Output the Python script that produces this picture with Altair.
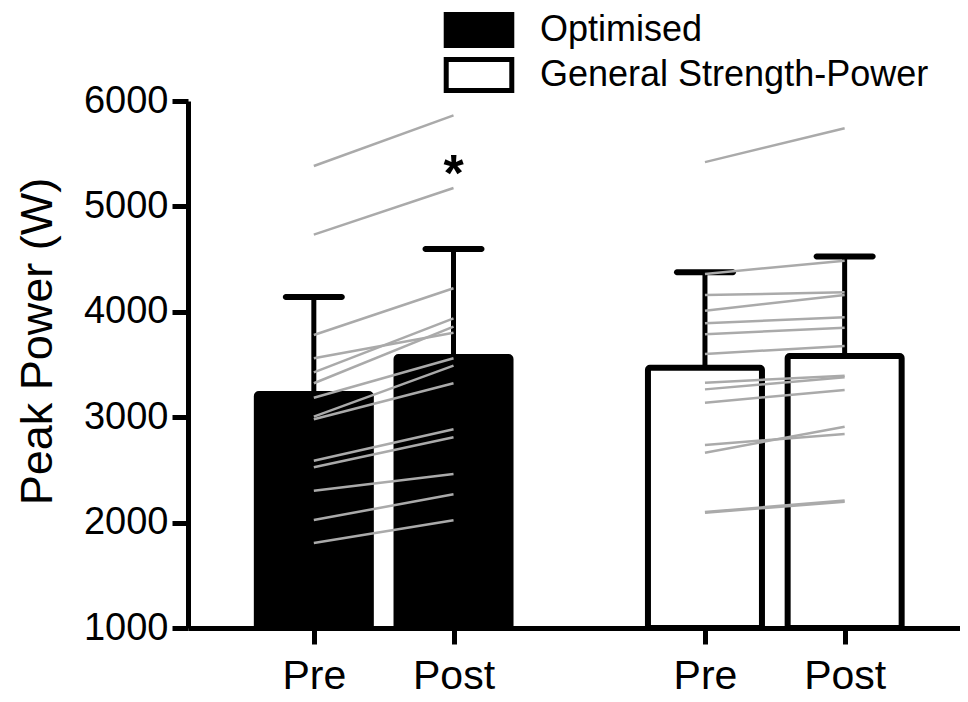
import altair as alt
import pandas as pd

# ---- data ----
groups = ["Optimised", "General Strength-Power"]
times = ["Pre", "Post"]
slots = [1.0, 2.0, 3.8, 4.8]          # x position of each Pre/Post category
bar_group = ["Optimised", "Optimised", "General Strength-Power", "General Strength-Power"]
bar_time = ["Pre", "Post", "Pre", "Post"]
bar_mean = [3220, 3570, 3470, 3580]
bar_sd = [920, 1025, 905, 945]

opt_pre = [5383, 4732, 3780, 3559, 3425, 3322, 3185, 3005, 2980, 2587, 2525, 2303, 2025, 1806]
opt_post = [5864, 5175, 4223, 3802, 3938, 3859, 3559, 3490, 3322, 2885, 2809, 2461, 2268, 2022]
gen_pre = [5420, 4359, 4159, 4010, 3891, 3787, 3600, 3327, 3264, 3138, 2736, 2663, 2094, 2100]
gen_post = [5741, 4485, 4185, 4160, 3948, 3849, 3675, 3394, 3380, 3258, 2841, 2910, 2198, 2210]

sig_slot = [2.0]
sig_value = [5150]
sig_text = ["*"]

y_ticks = [1000, 2000, 3000, 4000, 5000, 6000]

# ---- tables ----
bars = pd.DataFrame({
    "slot": slots,
    "group": bar_group,
    "time": bar_time,
    "mean": bar_mean,
    "upper": [m + s for m, s in zip(bar_mean, bar_sd)],
})

rows = []
for i, (a, b) in enumerate(zip(opt_pre, opt_post)):
    rows.append({"subject": f"O{i}", "slot": slots[0], "value": a})
    rows.append({"subject": f"O{i}", "slot": slots[1], "value": b})
for i, (a, b) in enumerate(zip(gen_pre, gen_post)):
    rows.append({"subject": f"G{i}", "slot": slots[2], "value": a})
    rows.append({"subject": f"G{i}", "slot": slots[3], "value": b})
ind = pd.DataFrame(rows)

sig = pd.DataFrame({"slot": sig_slot, "value": sig_value, "text": sig_text})

FONT = "Liberation Sans"

xscale = alt.Scale(domain=[0.135, 5.59], nice=False, zero=False)
yscale = alt.Scale(domain=[1000, 6000], nice=False, zero=False)

label_expr = (
    f"(datum.value < 1.5 || (datum.value > 3 && datum.value < 4.3)) ? '{times[0]}' : '{times[1]}'"
)

x_axis = alt.Axis(
    values=slots, labelExpr=label_expr, title=None, grid=False,
    domainWidth=5, domainColor="black", tickWidth=5, tickSize=16, tickColor="black",
    labelFontSize=41, labelPadding=12, labelColor="black", labelFont=FONT,
)
y_axis = alt.Axis(
    values=y_ticks, format="d", title="Peak Power (W)", grid=False,
    domainWidth=5, domainColor="black", tickWidth=5, tickSize=16, tickColor="black",
    labelFontSize=38, labelPadding=4, labelColor="black", labelFont=FONT,
    titleFontSize=45, titleFontWeight="normal", titleColor="black", titleFont=FONT,
    titlePadding=23, titleY=240,
)

base_x = alt.X("slot:Q", scale=xscale, axis=x_axis)

bar_layer = alt.Chart(bars).mark_bar(
    size=114, stroke="black", strokeWidth=6, strokeJoin="round", cornerRadius=2
).encode(
    x=base_x,
    y=alt.Y("mean:Q", scale=yscale, axis=y_axis),
    y2=alt.datum(1000),
    color=alt.Color(
        "group:N",
        scale=alt.Scale(domain=groups, range=["black", "white"]),
        legend=alt.Legend(
            title=None, orient="none", legendX=272, legendY=-90,
            symbolType="M-2,-0.94H2V0.94H-2Z", symbolSize=1075,
            symbolStrokeColor="black", symbolStrokeWidth=5,
            labelFontSize=36, labelFont=FONT, labelColor="black", labelLimit=0,
            labelOffset=42, rowPadding=-8,
        ),
    ),
)

err_rule = alt.Chart(bars).mark_rule(color="black", strokeWidth=5).encode(
    x=alt.X("slot:Q", scale=xscale),
    y=alt.Y("mean:Q", scale=yscale),
    y2="upper:Q",
)

err_cap = alt.Chart(bars).mark_tick(
    orient="horizontal", size=62, thickness=6, color="black", opacity=1, cornerRadius=3
).encode(
    x=alt.X("slot:Q", scale=xscale),
    y=alt.Y("upper:Q", scale=yscale),
)

lines = alt.Chart(ind).mark_line(color="#aaaaaa", strokeWidth=2.5).encode(
    x=alt.X("slot:Q", scale=xscale),
    y=alt.Y("value:Q", scale=yscale),
    detail="subject:N",
)

star = alt.Chart(sig).mark_text(
    font=FONT, fontSize=52, fontWeight="bold", color="black", baseline="alphabetic"
).encode(
    x=alt.X("slot:Q", scale=xscale),
    y=alt.Y("value:Q", scale=yscale),
    text="text:N",
)

chart = alt.layer(bar_layer, err_rule, err_cap, lines, star).properties(
    width=772, height=527,
    autosize=alt.AutoSizeParams(type="none"),
    padding={"left": 180, "top": 93, "right": 0, "bottom": 70},
).configure(font=FONT).configure_view(stroke=None)

chart.save("out.html", embed_options={"renderer": "svg", "actions": False})
